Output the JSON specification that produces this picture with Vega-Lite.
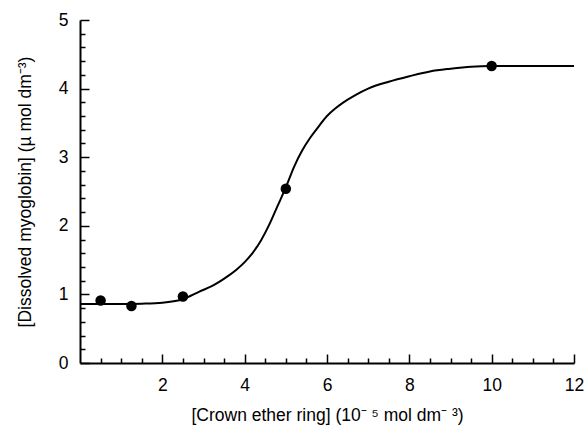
{
  "$schema": "https://vega.github.io/schema/vega-lite/v6.json",
  "width": 494,
  "height": 343,
  "autosize": {"type": "none"},
  "padding": {"left": 80, "top": 20, "right": 10, "bottom": 66},
  "background": "white",
  "config": {
    "view": {"stroke": null},
    "font": "Liberation Sans",
    "axis": {
      "grid": false,
      "domainColor": "black",
      "domainWidth": 2,
      "tickColor": "black",
      "tickWidth": 1.5,
      "tickCount": 100,
      "labelColor": "black",
      "labelFontSize": 17.5,
      "labelOverlap": false,
      "labelFlush": false,
      "labelBound": false,
      "titleColor": "black",
      "titleFontSize": 17.5,
      "titleFontWeight": "normal"
    }
  },
  "datasets": {
    "curve": [
      {"x": 0, "y": 0.86}, {"x": 0.5, "y": 0.86}, {"x": 1, "y": 0.86}, {"x": 1.5, "y": 0.865},
      {"x": 2, "y": 0.88}, {"x": 2.5, "y": 0.93}, {"x": 2.9, "y": 1.04}, {"x": 3.2, "y": 1.12},
      {"x": 3.4, "y": 1.19}, {"x": 3.6, "y": 1.27}, {"x": 3.8, "y": 1.36}, {"x": 4.0, "y": 1.47},
      {"x": 4.2, "y": 1.61}, {"x": 4.4, "y": 1.79}, {"x": 4.6, "y": 2.02}, {"x": 4.8, "y": 2.29},
      {"x": 5.0, "y": 2.56}, {"x": 5.2, "y": 2.86}, {"x": 5.4, "y": 3.10}, {"x": 5.6, "y": 3.29},
      {"x": 5.8, "y": 3.45}, {"x": 6.0, "y": 3.60}, {"x": 6.2, "y": 3.71}, {"x": 6.4, "y": 3.80},
      {"x": 6.7, "y": 3.91}, {"x": 7.0, "y": 4.00}, {"x": 7.5, "y": 4.10}, {"x": 8.0, "y": 4.18},
      {"x": 8.5, "y": 4.25}, {"x": 9.0, "y": 4.29}, {"x": 9.5, "y": 4.32}, {"x": 10, "y": 4.33},
      {"x": 11, "y": 4.33}, {"x": 12, "y": 4.33}
    ],
    "points": [
      {"x": 0.5, "y": 0.91}, {"x": 1.25, "y": 0.83}, {"x": 2.5, "y": 0.97},
      {"x": 5.0, "y": 2.54}, {"x": 10, "y": 4.33}
    ]
  },
  "layer": [
    {
      "data": {"name": "curve"},
      "mark": {"type": "line", "color": "black", "strokeWidth": 2, "interpolate": "monotone"},
      "encoding": {
        "x": {
          "field": "x", "type": "quantitative",
          "scale": {"domain": [0, 12], "nice": false, "zero": false},
          "axis": {
            "title": "[Crown ether ring] (10⁻ ⁵ mol dm⁻ ³)",
            "values": [0.5, 1, 1.5, 2, 2.5, 3, 3.5, 4, 4.5, 5, 5.5, 6, 6.5, 7, 7.5, 8, 8.5, 9, 9.5, 10, 10.5, 11, 11.5, 12],
            "labelExpr": "datum.value % 2 === 0 ? format(datum.value, 'd') : ''",
            "tickSize": {"condition": {"test": "datum.value % 2 === 0", "value": -9}, "value": -5},
            "labelPadding": 22,
            "titlePadding": 9
          }
        },
        "y": {
          "field": "y", "type": "quantitative",
          "scale": {"domain": [0, 5], "nice": false},
          "axis": {
            "title": "[Dissolved myoglobin] (µ mol dm⁻³)",
            "values": [0, 0.2, 0.4, 0.6, 0.8, 1, 1.2, 1.4, 1.6, 1.8, 2, 2.2, 2.4, 2.6, 2.8, 3, 3.2, 3.4, 3.6, 3.8, 4, 4.2, 4.4, 4.6, 4.8, 5],
            "labelExpr": "datum.value % 1 === 0 ? format(datum.value, 'd') : ''",
            "tickSize": {"condition": {"test": "datum.value % 1 === 0", "value": -9}, "value": -5},
            "labelPadding": 21,
            "titlePadding": 24
          }
        }
      }
    },
    {
      "data": {"name": "points"},
      "mark": {"type": "circle", "color": "black", "opacity": 1, "size": 110},
      "encoding": {
        "x": {"field": "x", "type": "quantitative"},
        "y": {"field": "y", "type": "quantitative"}
      }
    }
  ]
}
